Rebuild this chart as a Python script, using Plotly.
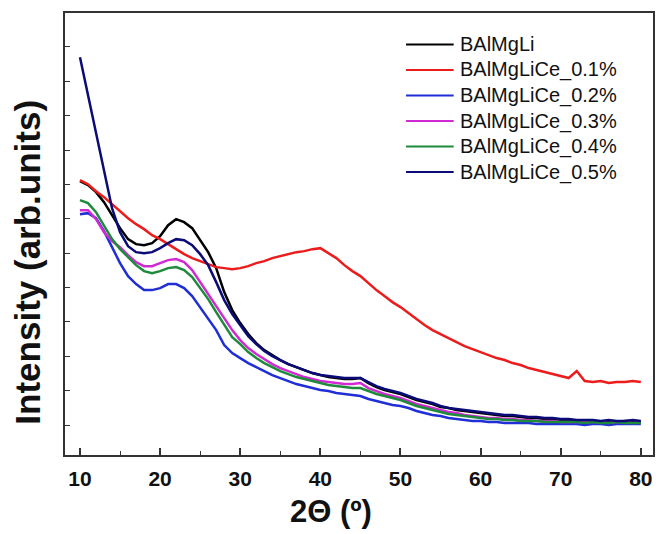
import plotly.graph_objects as go

# Diffraction angle grid (degrees 2-theta)
two_theta = list(range(10, 81))

# Intensities (arb. units) for each composition, one value per degree
i_balmgli = [279, 275, 268, 258, 245, 232, 221, 216, 215, 217,
             224, 235, 241, 238, 232, 220, 208, 192, 168, 150,
             137, 126, 117, 110, 105, 100, 96, 93, 90, 87,
             85, 83, 82, 81, 81, 82, 77, 73, 70, 68,
             66, 63, 60, 58, 56, 53, 52, 50, 49, 48,
             47, 46, 45, 44, 44, 43, 42, 42, 41, 41,
             40, 40, 39, 39, 39, 38, 39, 38, 39, 39,
             38]
i_ce01 = [280, 276, 269, 263, 256, 249, 242, 236, 231, 225,
          221, 216, 211, 206, 202, 199, 196, 193, 192, 191,
          192, 194, 197, 199, 202, 204, 206, 208, 209, 211,
          212, 207, 202, 195, 189, 184, 177, 170, 164, 158,
          153, 147, 141, 135, 130, 126, 122, 118, 114, 111,
          108, 105, 102, 100, 97, 95, 92, 90, 88, 86,
          84, 82, 89, 79, 78, 79, 77, 78, 78, 79,
          78]
i_ce02 = [246, 247, 242, 229, 213, 197, 184, 176, 170, 170,
          172, 176, 176, 172, 164, 153, 142, 130, 115, 107,
          102, 97, 93, 89, 85, 82, 79, 76, 74, 72,
          70, 69, 67, 66, 65, 64, 61, 59, 57, 55,
          54, 52, 49, 47, 45, 44, 42, 41, 40, 39,
          39, 38, 38, 37, 37, 37, 37, 36, 36, 36,
          36, 36, 36, 35, 36, 36, 35, 36, 36, 36,
          36]
i_ce03 = [250, 250, 241, 228, 219, 213, 205, 198, 194, 194,
          197, 200, 201, 198, 190, 178, 167, 154, 142, 130,
          120, 112, 106, 101, 96, 92, 89, 86, 83, 81,
          79, 78, 77, 76, 76, 77, 72, 69, 66, 64,
          62, 59, 56, 54, 52, 50, 48, 47, 45, 44,
          43, 42, 42, 41, 41, 40, 40, 39, 39, 39,
          38, 38, 38, 38, 38, 38, 37, 38, 38, 37,
          38]
i_ce04 = [260, 257, 248, 235, 221, 211, 203, 195, 189, 187,
          189, 192, 193, 190, 183, 172, 161, 148, 135, 123,
          116, 108, 102, 97, 93, 89, 86, 83, 81, 79,
          77, 75, 74, 73, 72, 72, 69, 66, 64, 62,
          60, 57, 54, 52, 50, 48, 46, 45, 44, 43,
          42, 41, 41, 40, 40, 39, 39, 39, 38, 38,
          38, 38, 38, 37, 38, 37, 37, 38, 37, 37,
          37]
i_ce05 = [403, 365, 327, 288, 252, 228, 214, 208, 207, 208,
          212, 217, 221, 220, 215, 206, 195, 178, 160, 146,
          135, 124, 116, 109, 104, 100, 96, 93, 90, 87,
          85, 84, 83, 82, 82, 82, 78, 74, 71, 69,
          67, 64, 61, 59, 57, 54, 52, 51, 50, 49,
          48, 47, 46, 45, 45, 44, 43, 43, 42, 42,
          41, 41, 40, 40, 40, 39, 40, 39, 39, 40,
          39]

series_names = ["BAlMgLi", "BAlMgLiCe_0.1%", "BAlMgLiCe_0.2%",
                "BAlMgLiCe_0.3%", "BAlMgLiCe_0.4%", "BAlMgLiCe_0.5%"]
series_values = [i_balmgli, i_ce01, i_ce02, i_ce03, i_ce04, i_ce05]
series_colors = ["#000000", "#ec1c1c", "#1f2ed6", "#d22ad2", "#1e8a3c", "#0b0b78"]

FONT = "Liberation Sans, Arial, sans-serif"
AXIS_COLOR = "#333333"
TEXT_COLOR = "#111111"

fig = go.Figure()
for name, vals, col in zip(series_names, series_values, series_colors):
    fig.add_trace(go.Scatter(
        x=two_theta, y=vals, mode="lines", name=name,
        line=dict(color=col, width=2.5),
    ))

# Key in the upper right: a short line sample and the sample name per row
key_x0, key_x1, key_text_x = 0.580, 0.661, 0.669
key_top, key_step = 0.929, 0.0578
shapes = []
annotations = []
for k, (name, col) in enumerate(zip(series_names, series_colors)):
    yk = key_top - k * key_step
    shapes.append(dict(type="line", xref="paper", yref="paper",
                       x0=key_x0, x1=key_x1, y0=yk, y1=yk,
                       line=dict(color=col, width=2)))
    annotations.append(dict(xref="paper", yref="paper", x=key_text_x, y=yk,
                            xanchor="left", yanchor="middle", showarrow=False,
                            text=name, font=dict(family=FONT, size=20, color=TEXT_COLOR)))

# Axis titles
annotations.append(dict(xref="paper", yref="paper", x=0.452, y=-0.128,
                        xanchor="center", yanchor="middle", showarrow=False,
                        text="<b>2\u0398 (\u00ba)</b>",
                        font=dict(family=FONT, size=31, color=TEXT_COLOR)))
annotations.append(dict(xref="paper", yref="paper", x=-0.064, y=0.436,
                        xanchor="center", yanchor="middle", showarrow=False,
                        textangle=-90, text="<b>Intensity (arb.units)</b>",
                        font=dict(family=FONT, size=35, color=TEXT_COLOR)))

fig.update_layout(
    width=660, height=534,
    margin=dict(l=65, r=5, t=13, b=79),
    paper_bgcolor="white", plot_bgcolor="white",
    font=dict(family=FONT, color=TEXT_COLOR),
    showlegend=False,
    shapes=shapes,
    annotations=annotations,
)

fig.update_xaxes(
    range=[8.13, 81.52],
    tickmode="array", tickvals=[10, 20, 30, 40, 50, 60, 70, 80],
    ticks="inside", ticklen=7, tickwidth=1.5, tickcolor=AXIS_COLOR,
    minor=dict(ticks="inside", ticklen=4, tickwidth=1.2, tickcolor=AXIS_COLOR,
               tickmode="array", tickvals=[15, 25, 35, 45, 55, 65, 75]),
    tickfont=dict(family=FONT, size=21, color=TEXT_COLOR, weight="bold"),
    ticklabelstandoff=4,
    showline=True, linecolor=AXIS_COLOR, linewidth=1.6, mirror=True,
    showgrid=False, zeroline=False,
)

fig.update_yaxes(
    range=[5, 447.3],
    tick0=35, dtick=34.4,
    ticks="inside", ticklen=5, tickwidth=1.2, tickcolor=AXIS_COLOR,
    showticklabels=False,
    showline=True, linecolor=AXIS_COLOR, linewidth=1.6, mirror=True,
    showgrid=False, zeroline=False,
)

fig.write_html("out.html")
